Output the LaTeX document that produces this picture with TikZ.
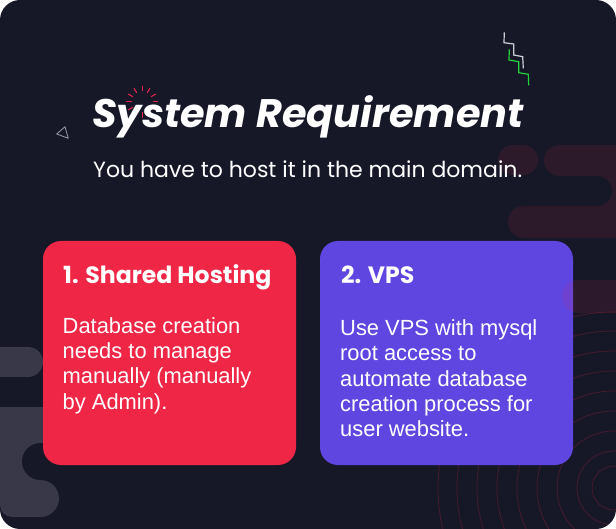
\documentclass[tikz,border=0pt]{standalone}
\usepackage{fontspec}
\setmainfont{Liberation Sans}
\newfontfamily\popf{Poppins}
\definecolor{bgc}{HTML}{161828}
\definecolor{greyc}{HTML}{383848}
\definecolor{maroonc}{HTML}{2C1A2B}
\definecolor{redc}{HTML}{EF2646}
\definecolor{purplec}{HTML}{6046E0}
\definecolor{burstc}{HTML}{E8264C}
\definecolor{zigw}{HTML}{CFCFD8}
\definecolor{zigg}{HTML}{22D33A}
\definecolor{trig}{HTML}{9A9AA8}
\tikzset{
 card/.style={rounded corners=18pt},
 head/.style={anchor=base west, inner sep=0pt, text=white, font=\popf\bfseries\fontsize{23.6}{27}\selectfont},
 body/.style={anchor=base west, inner sep=0pt, text=white, font=\fontsize{21.9}{25}\selectfont},
 ring/.style={draw=redc, draw opacity=0.22, line width=0.8pt},
}
\begin{document}
\begin{tikzpicture}[x=1pt,y=-1pt]
\useasboundingbox (0,0) rectangle (616,529);
\fill[white] (0,0) rectangle (616,529);
\fill[bgc, rounded corners=20pt] (0,0) rectangle (616,529);
\begin{scope}
\clip[rounded corners=20pt] (0,0) rectangle (616,529);
% grey shapes left
\fill[greyc, rounded corners=15pt] (-40,347) rectangle (43,377);
\fill[greyc] (-40,407) rectangle (60,480);
\fill[greyc] (-40,480) -- (40.5,480) arc[start angle=-90,end angle=90,radius=18.5] -- (12,517) arc[start angle=90,end angle=180,radius=12] -- (-40,505) -- cycle;
\fill[bgc, rounded corners=18.5pt] (22,443) rectangle (120,480);
% maroon shapes right
\fill[maroonc, rounded corners=15pt] (498,145) rectangle (538,175);
\fill[maroonc, rounded corners=15.5pt] (544,145) rectangle (680,176);
\fill[maroonc, rounded corners=16pt] (508,206) rectangle (680,238);
\fill[maroonc] (600,160) rectangle (680,225);
\fill[bgc, rounded corners=15pt] (450,176) rectangle (612,206);
% rings
\foreach \r in {22,37,57,77,97,117,137,157,176} \draw[ring] (614,488) circle[radius=\r];
\end{scope}
% zigzags
\draw[zigw, line width=1.2pt] (504.3,32.3) -- (504,42.7) -- (513.7,44) -- (513.7,55) -- (522.7,56.7) -- (523.3,68.3);
\draw[zigg, line width=1.2pt] (509.3,49.3) -- (509,60) -- (518.7,61.7) -- (518.7,72.7) -- (528.3,74.3) -- (528.7,85.3);
% triangle
\draw[trig, line width=0.8pt, line join=round] (65,126.7) -- (56.7,134) -- (68.3,138.3) -- cycle;
% burst
\foreach \a in {0,30,...,330} \draw[burstc, line width=1pt] (142,102) ++(\a:10.5) -- ++(\a:5.5);
% cards
\fill[redc, card] (43,241) rectangle (296,465);
\fill[purplec, card] (320,241) rectangle (573,465);
\fill[redc, opacity=0.1, rounded corners=16.5pt] (562,280) rectangle (680,313);
% texts
\node[anchor=base west, inner sep=0pt, text=white, font=\popf\bfseries\itshape\fontsize{39.8}{45}\selectfont] (title) at (92,128) {System Requirement};
\node[anchor=base west, inner sep=0pt, text=white, font=\popf\fontsize{22}{26}\selectfont] (sub) at (93,178) {You have to host it in the main domain.};
\node[head] (h1) at (63,284) {1. Shared Hosting};
\node[head] (h2) at (341,284) {2. VPS};
\node[body] (a1) at (62.5,334) {Database creation};
\node[body] (a2) at (62.5,359) {needs to manage};
\node[body] (a3) at (62.5,384) {manually (manually};
\node[body] (a4) at (62.5,409) {by Admin).};
\node[body] (b1) at (340,336) {Use VPS with mysql};
\node[body] (b2) at (340,361) {root access to};
\node[body] (b3) at (340,386) {automate database};
\node[body] (b4) at (340,411) {creation process for};
\node[body] (b5) at (340,436) {user website.};
\end{tikzpicture}
\end{document}
